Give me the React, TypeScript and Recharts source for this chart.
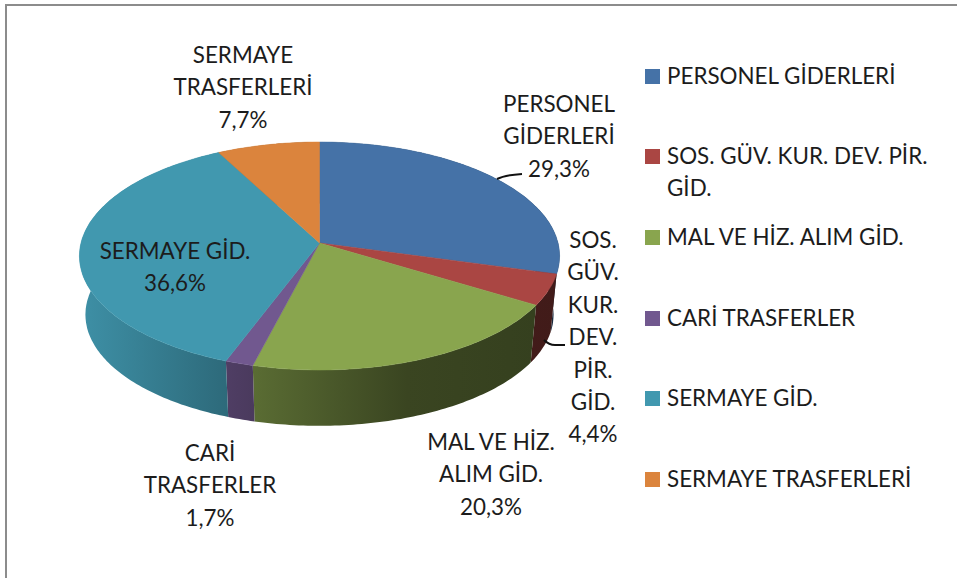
import { PieChart, Pie, Legend } from 'recharts';

const categories = ['PERSONEL GİDERLERİ', 'SOS. GÜV. KUR. DEV. PİR. GİD.', 'MAL VE HİZ. ALIM GİD.', 'CARİ TRASFERLER', 'SERMAYE GİD.', 'SERMAYE TRASFERLERİ'];
const shares = [29.3, 4.4, 20.3, 1.7, 36.6, 7.7];
const colors = ['#4572a7', '#aa4643', '#89a54e', '#71588f', '#4198af', '#db843d'];

// data label text, one entry per slice
const labelLines = [
  ['PERSONEL', 'GİDERLERİ', '29,3%'],
  ['SOS.', 'GÜV.', 'KUR.', 'DEV.', 'PİR.', 'GİD.', '4,4%'],
  ['MAL VE HİZ.', 'ALIM GİD.', '20,3%'],
  ['CARİ', 'TRASFERLER', '1,7%'],
  ['SERMAYE GİD.', '36,6%'],
  ['SERMAYE', 'TRASFERLERİ', '7,7%'],
];
// where each label sits: centre x, first baseline y
const labelSpots = [[559, 112], [593, 248], [491, 450], [210, 461], [175, 259], [243, 63]];
const leaders = ['M497 179 Q505 175 522 174', 'M544 340 Q549 345 555 345 L565 345', '', '', '', ''];

const legendRows = [76, 156, 237, 318, 398, 479];

const font = 'Lato, "Open Sans", sans-serif';
const fontSize = 22.4;
const textColor = '#1c1c1c';

// fake 3d: the pie is tilted with a little perspective
const CX = 319.5, CY = 243, RX_PER_R = 2.12, RY_PER_R = 1, TILT = 0.114;
const DEPTH = 59, FLOOR_SCALE = 0.975;

const project = (deg: number, r: number, scale = 1, dy = 0) => {
  const t = (deg * Math.PI) / 180;
  const u = -Math.sin(t);
  const p = 1 / (1 - TILT * u);
  return [CX + r * RX_PER_R * Math.cos(t) * p * scale, CY + dy + r * RY_PER_R * u * p * scale];
};

const arc = (from: number, to: number, r: number, scale = 1, dy = 0) => {
  const n = Math.max(2, Math.ceil(Math.abs(to - from)));
  const pts: string[] = [];
  for (let i = 0; i <= n; i++) {
    const [x, y] = project(from + ((to - from) * i) / n, r, scale, dy);
    pts.push(`${x.toFixed(1)} ${y.toFixed(1)}`);
  }
  return pts;
};

const shade = (hex: string, k: number) => {
  const n = parseInt(hex.slice(1), 16);
  const c = [n >> 16, (n >> 8) & 255, n & 255].map(v => Math.round(v * k));
  return `rgb(${c.join(',')})`;
};

function TopFace(props: any) {
  const { startAngle, endAngle, outerRadius, fill } = props;
  const d = `M${CX} ${CY} L${arc(startAngle, endAngle, outerRadius).join(' L')} Z`;
  return <path d={d} fill={fill} stroke={fill} strokeWidth={0.5} />;
}

function WallFace(props: any) {
  const { startAngle, endAngle, outerRadius, fill, index } = props;
  const top = arc(startAngle, endAngle, outerRadius);
  const floor = arc(endAngle, startAngle, outerRadius, FLOOR_SCALE, DEPTH);
  const id = `wall-${index}`;
  return (
    <g>
      <defs>
        <linearGradient id={id} gradientUnits="userSpaceOnUse" x1={80} x2={560} y1={0} y2={0}>
          <stop offset="0" stopColor={shade(fill, 0.95)} />
          <stop offset="0.33" stopColor={shade(fill, 0.68)} />
          <stop offset="0.68" stopColor={shade(fill, 0.42)} />
          <stop offset="1" stopColor={shade(fill, 0.38)} />
        </linearGradient>
      </defs>
      <path d={`M${top.join(' L')} L${floor.join(' L')} Z`} fill={`url(#${id})`} />
    </g>
  );
}

function SliceLabel({ index }: any) {
  const [x, y] = labelSpots[index];
  return (
    <g>
      {leaders[index] && <path d={leaders[index]} fill="none" stroke="#111" strokeWidth={2} />}
      <text x={x} y={y} textAnchor="middle" fontFamily={font} fontSize={fontSize} fill={textColor}>
        {labelLines[index].map((line, i) => (
          <tspan key={i} x={x} y={y + i * 32.4}>{line}</tspan>
        ))}
      </text>
    </g>
  );
}

function LegendBlock() {
  return (
    <div style={{ position: 'relative', width: 957, height: 578, fontFamily: font, fontSize, color: textColor }}>
      {categories.map((name, i) => (
        <div key={name}>
          <div style={{ position: 'absolute', left: 645, top: legendRows[i] - 7, width: 15, height: 15, background: colors[i] }} />
          <div style={{ position: 'absolute', left: 667, top: legendRows[i] - 16, width: 280, lineHeight: '32px' }}>{name}</div>
        </div>
      ))}
    </div>
  );
}

const table = categories.map((name, i) => ({ name, value: shares[i], fill: colors[i] }));

export default function App() {
  return (
    <div style={{ position: 'absolute', left: 0, top: 0, width: 957, height: 578, background: '#fff', overflow: 'hidden' }}>
      <div style={{ position: 'absolute', left: 5, top: 4, right: 0, bottom: 0, borderTop: '2px solid #8c8c8c', borderLeft: '2px solid #8c8c8c' }} />
      <PieChart width={957} height={578} style={{ position: 'absolute', left: 0, top: 0 }}>
        <Pie
          data={table}
          dataKey="value"
          nameKey="name"
          cx={CX}
          cy={CY}
          outerRadius={112.5}
          startAngle={90}
          endAngle={-270}
          stroke="none"
          legendType="none"
          shape={WallFace}
          isAnimationActive={false}
        />
        <Pie
          data={table}
          dataKey="value"
          nameKey="name"
          cx={CX}
          cy={CY}
          outerRadius={112.5}
          startAngle={90}
          endAngle={-270}
          stroke="none"
          shape={TopFace}
          label={SliceLabel}
          labelLine={false}
          isAnimationActive={false}
        />
        <Legend content={LegendBlock} wrapperStyle={{ position: 'absolute', left: 0, top: 0, width: 957, height: 578, pointerEvents: 'none' }} />
      </PieChart>
    </div>
  );
}
